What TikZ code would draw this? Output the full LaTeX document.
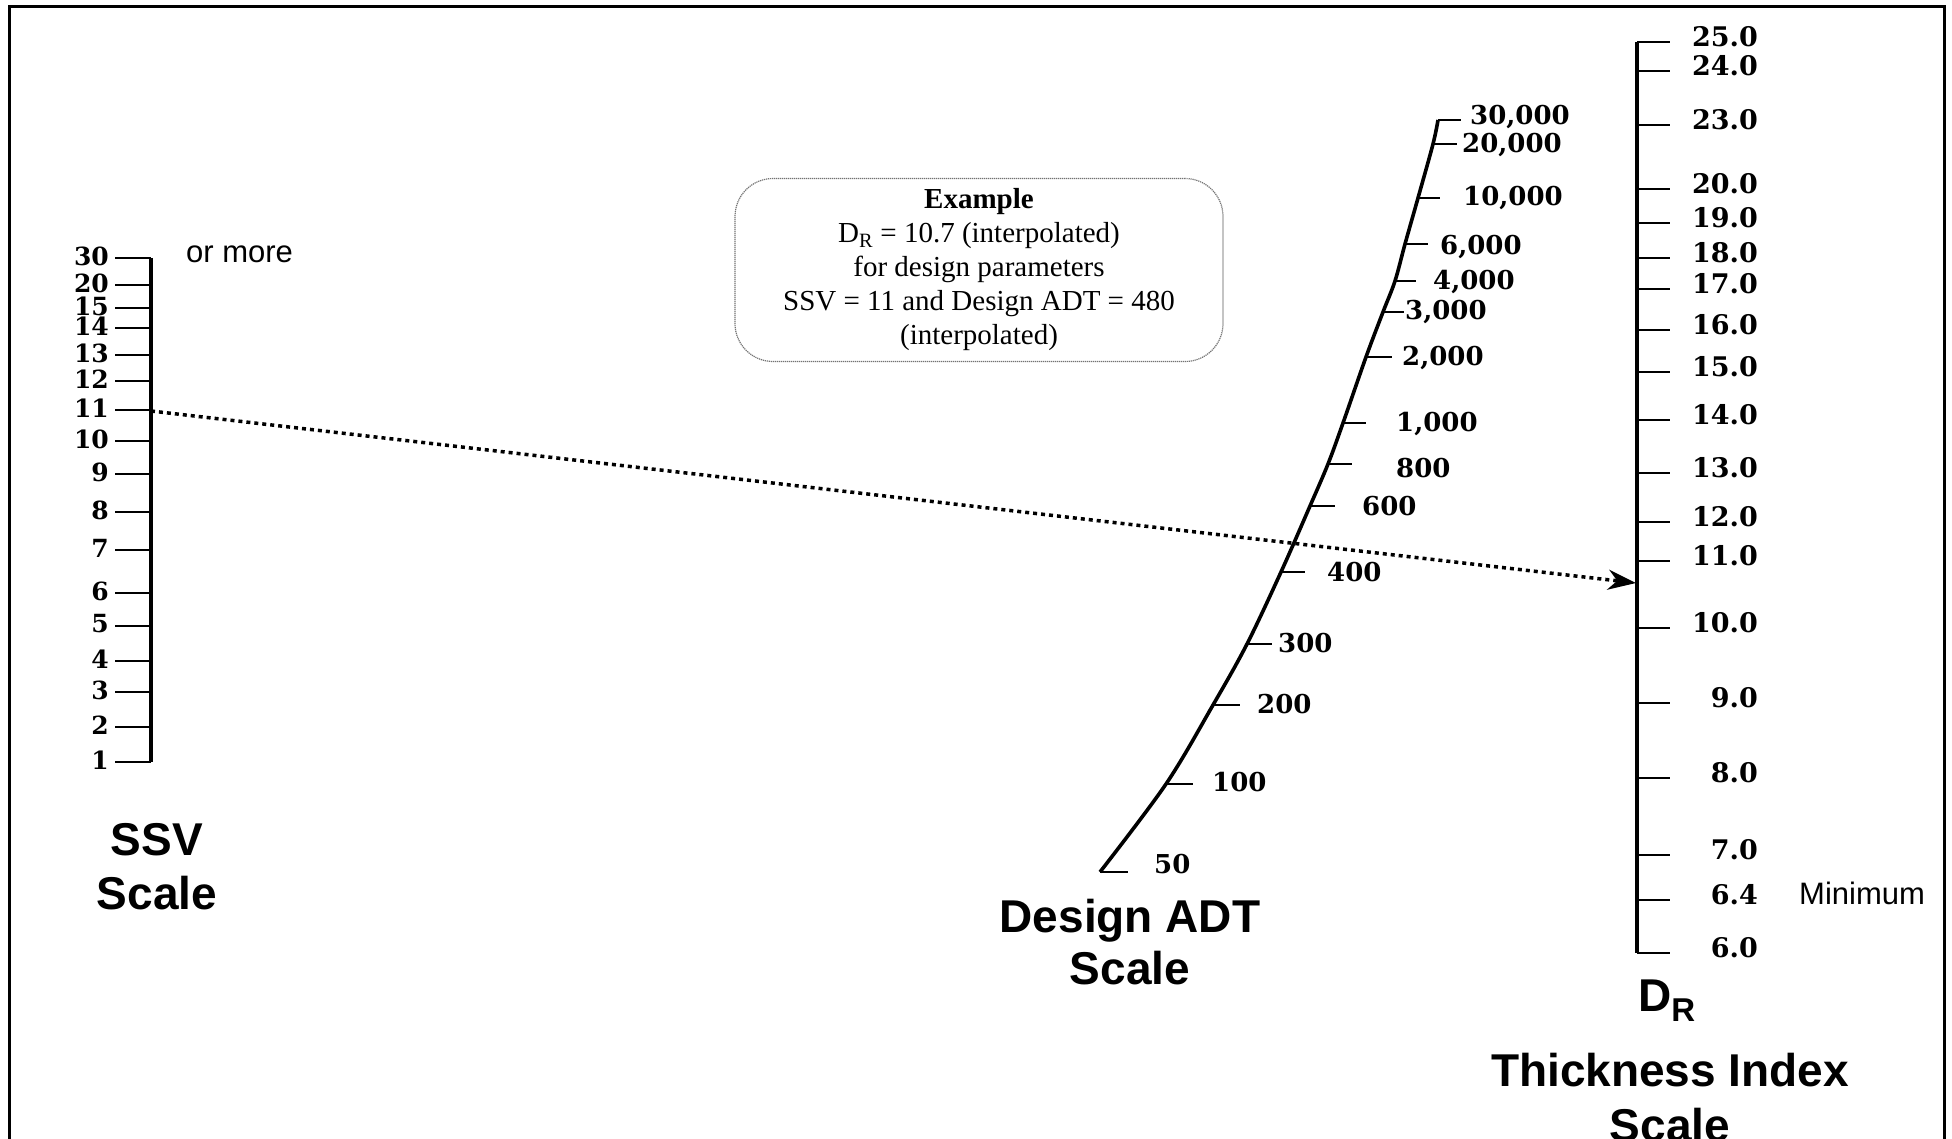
\documentclass[tikz,border=0pt]{standalone}
\usepackage{fontspec}
\newfontfamily\arialf{Liberation Sans}
\newfontfamily\timesf{Liberation Serif}
\newfontfamily\numf{DejaVu Serif}
\usetikzlibrary{arrows.meta}
\begin{document}
\begin{tikzpicture}[x=1pt,y=-1pt,
  axisline/.style={line width=3.6pt},
  tickline/.style={line width=2.6pt},
  ssvnum/.style={font=\fontsize{25}{25}\selectfont\numf\bfseries, inner sep=0pt, anchor=east},
  drnum/.style={font=\fontsize{27}{27}\selectfont\numf\bfseries, inner sep=0pt, anchor=east},
  adtnum/.style={font=\fontsize{26}{26}\selectfont\numf\bfseries, inner sep=0pt, anchor=west},
  title/.style={font=\fontsize{46}{54}\selectfont\arialf\bfseries, inner sep=0pt, anchor=base},
  note/.style={font=\fontsize{31}{31}\selectfont\arialf, inner sep=0pt, anchor=base west},
  example/.style={draw=black!55, line width=1.2pt, dash pattern=on 1.2pt off 0.8pt,
    rounded corners=38pt, minimum width=488pt, minimum height=183pt, align=center,
    font=\fontsize{29}{34}\selectfont\timesf, inner sep=0pt},
  dotline/.style={line width=3.5pt, dash pattern=on 4pt off 4pt}
]
\useasboundingbox (0,0) rectangle (1952,1139);
\clip (0,0) rectangle (1952,1139);
% frame
\draw[line width=3pt] (9,1150) -- (9,7) -- (1944,7) -- (1944,1150);

% SSV scale
\draw[axisline] (151,258) -- (151,762);
\foreach \v/\y in {30/258,20/285,15/308,14/328,13/355,12/381,11/410,10/441,9/474,8/512,7/550,6/593,5/626,4/661,3/692,2/727,1/762}{
  \draw[tickline] (115,\y) -- (151,\y);
  \node[ssvnum] (ssv\v) at (109,\y-2) {\v};
}
\node[note] (ormore) at (186,263) {or more};
\node[title] (ssvt1) at (157,855) {SSV};
\node[title] (ssvt2) at (157,909) {Scale};

% Design ADT scale
\draw[axisline, line join=round] plot[smooth, tension=0.55] coordinates {
  (1100,872) (1166,784) (1213,705) (1247,644) (1281,572) (1310,506) (1328,464)
  (1343,423) (1366,357) (1383,312) (1395,281) (1405,244) (1418,198) (1433,144) (1438,120)};
\foreach \cx/\cy/\ex/\lx/\ly/\t/\n in {
  1438/120/1461/1470/117/{30,000}/a,
  1433/144/1457/1462/145/{20,000}/b,
  1418/198/1440/1463/198/{10,000}/c,
  1405/244/1428/1440/247/{6,000}/d,
  1395/281/1416/1433/282/{4,000}/e,
  1383/312/1404/1405/312/{3,000}/f,
  1366/357/1392/1402/358/{2,000}/g,
  1343/423/1366/1396/424/{1,000}/h,
  1328/464/1352/1396/468/{800}/i,
  1310/506/1335/1362/506/{600}/j,
  1281/572/1305/1327/572/{400}/k,
  1247/644/1272/1278/643/{300}/l,
  1213/705/1240/1257/704/{200}/m,
  1166/784/1193/1212/782/{100}/n,
  1100/872/1128/1154/864/{50}/o}{
  \draw[tickline] (\cx,\cy) -- (\ex,\cy);
  \node[adtnum] (adt\n) at (\lx,\ly) {\t};
}
\node[title] (adtt1) at (1130,932) {Design ADT};
\node[title] (adtt2) at (1130,984) {Scale};

% D_R scale
\draw[axisline] (1637,42) -- (1637,953);
\foreach \v/\y in {25.0/42,24.0/71,23.0/125,20.0/189,19.0/223,18.0/258,17.0/289,16.0/330,15.0/372,14.0/420,13.0/473,12.0/522,11.0/561,10.0/628,9.0/703,8.0/778,7.0/855,6.4/900,6.0/953}{
  \draw[tickline] (1637,\y) -- (1670,\y);
  \node[drnum] (dr\v) at (1758,\y-5) {\v};
}
\node[note] (minimum) at (1799,904) {Minimum};
\node[title, anchor=base west] (drt) at (1638,1011) {D\raisebox{-0.22em}{\fontsize{33}{33}\selectfont R}};
\node[title] (drt1) at (1670,1086) {Thickness Index};
\node[title] (drt2) at (1670,1141) {Scale};

% example box
\node[example] (ex) at (979,270) {{\bfseries Example}\\D\textsubscript{R} = 10.7 (interpolated)\\for design parameters\\SSV = 11 and Design ADT = 480\\(interpolated)};

% reading line
\coordinate (s11) at (151,411);
\coordinate (d107) at (1636,583);
\draw[dotline, -{Stealth[length=28pt,width=20pt]}] (s11) -- (d107);
\end{tikzpicture}
\end{document}
